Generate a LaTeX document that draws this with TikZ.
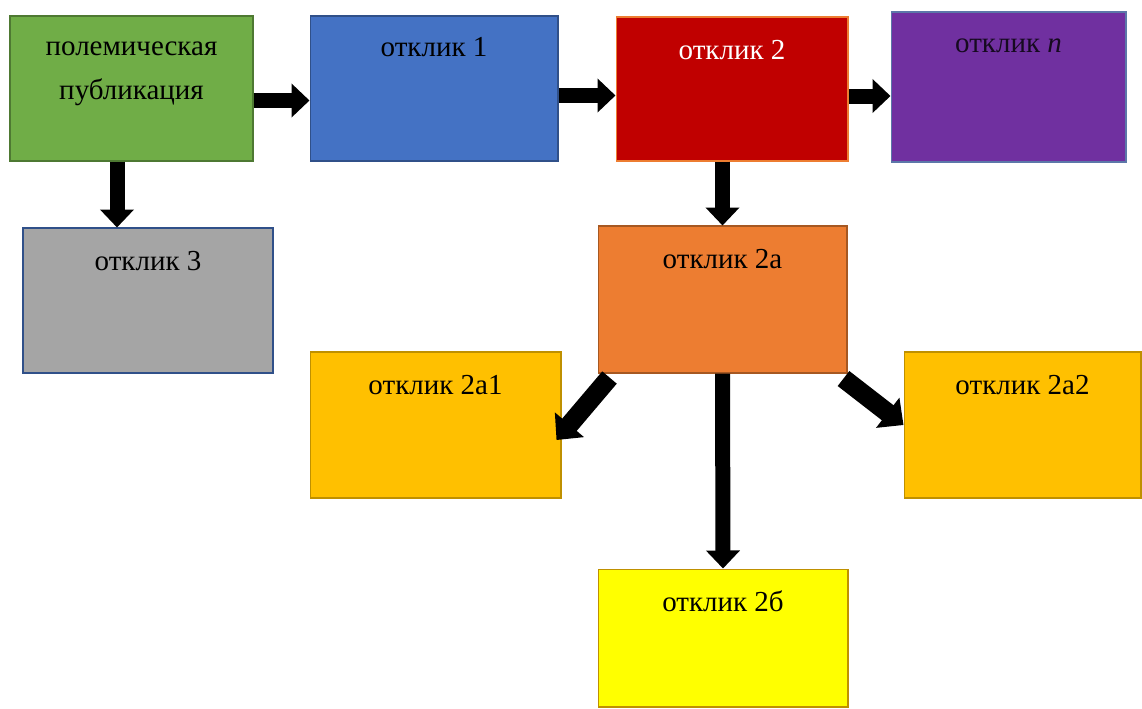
\documentclass[tikz,border=0pt]{standalone}
\usepackage{fontspec}
\setmainfont{Liberation Serif}
\usetikzlibrary{arrows.meta,calc}
\definecolor{pubgreen}{HTML}{70AD47}
\definecolor{resblue}{HTML}{4472C4}
\definecolor{resred}{HTML}{C00000}
\definecolor{respurple}{HTML}{7030A0}
\definecolor{resgray}{HTML}{A5A5A5}
\definecolor{resorange}{HTML}{ED7D31}
\definecolor{resgold}{HTML}{FFC000}
\definecolor{resyellow}{HTML}{FFFF00}
\tikzset{
  box/.style={rectangle,inner sep=0pt,line width=0.6pt},
  lbl/.style={anchor=base,align=center,inner sep=0pt,
    font=\fontsize{16.5}{25}\selectfont},
  arr/.style={line width=0.3cm,line cap=butt,
    -{Triangle[width=0.66cm,length=0.36cm]}},
  diag/.style={line width=0.38cm,line cap=butt,
    -{Triangle[width=0.74cm,length=0.4cm]}}
}
\begin{document}
\begin{tikzpicture}[x=0.02cm,y=-0.02cm]
\useasboundingbox (0,0) rectangle (1142,708);
% first row
\node[box,fill=pubgreen,draw=pubgreen!70!black,minimum width=4.86cm,minimum height=2.9cm,
  label={[lbl,yshift=-1.68cm]north:полемическая\\публикация}] (pub) at (131.5,88.5) {};
\node[box,fill=resblue,draw=resblue!70!black,minimum width=4.96cm,minimum height=2.9cm,
  label={[lbl,yshift=-0.82cm]north:отклик 1}] (r1) at (434,88.5) {};
\node[box,fill=resred,draw=resorange,minimum width=4.64cm,minimum height=2.88cm,
  label={[lbl,text=white,yshift=-0.86cm]north:отклик 2}] (r2) at (732,89) {};
\node[box,fill=respurple,draw=resblue!60!gray,minimum width=4.7cm,minimum height=3cm,
  label={[lbl,text=black!80!respurple,yshift=-0.82cm]north:отклик \textit{n}}] (rn) at (1008.5,87) {};
% second row
\node[box,fill=resgray,draw=resblue!70!black,minimum width=5cm,minimum height=2.9cm,
  label={[lbl,yshift=-0.86cm]north:отклик 3}] (r3) at (148,300.5) {};
\node[box,fill=resorange,draw=resorange!70!black,minimum width=4.98cm,minimum height=2.94cm,
  label={[lbl,yshift=-0.86cm]north:отклик 2а}] (r2a) at (722.5,299.5) {};
\node[box,fill=resgold,draw=resgold!75!black,minimum width=5.02cm,minimum height=2.92cm,
  label={[lbl,yshift=-0.86cm]north:отклик 2а1}] (r2a1) at (435.5,425) {};
\node[box,fill=resgold,draw=resgold!75!black,minimum width=4.74cm,minimum height=2.92cm,
  label={[lbl,yshift=-0.86cm]north:отклик 2а2}] (r2a2) at (1022.5,425) {};
\node[box,fill=resyellow,draw=resgold!75!black,minimum width=5cm,minimum height=2.76cm,
  label={[lbl,yshift=-0.86cm]north:отклик 2б}] (r2b) at (723,638) {};
% arrows
\draw[arr] ([yshift=-0.24cm]pub.east) -- ([yshift=-0.24cm]pub.east -| r1.west);
\draw[arr] ([yshift=-0.14cm]r1.east) -- ([yshift=-0.14cm]r1.east -| r2.west);
\draw[arr] ([yshift=-0.14cm]r2.east) -- ([yshift=-0.14cm]r2.east -| rn.west);
\draw[arr] ([xshift=-0.29cm]pub.south) -- ([xshift=-0.29cm]pub.south |- r3.north);
\draw[arr] (r2.south -| r2a.north) -- (r2a.north);
\draw[arr] (r2a.south) -- (r2b.north);
\draw[diag] ([shift={(12,4)}]r2a.south west) -- ([shift={(-5,15)}]r2a1.east);
\draw[diag] ([shift={(-4,5)}]r2a.south east) -- (r2a2.west);
\end{tikzpicture}
\end{document}
